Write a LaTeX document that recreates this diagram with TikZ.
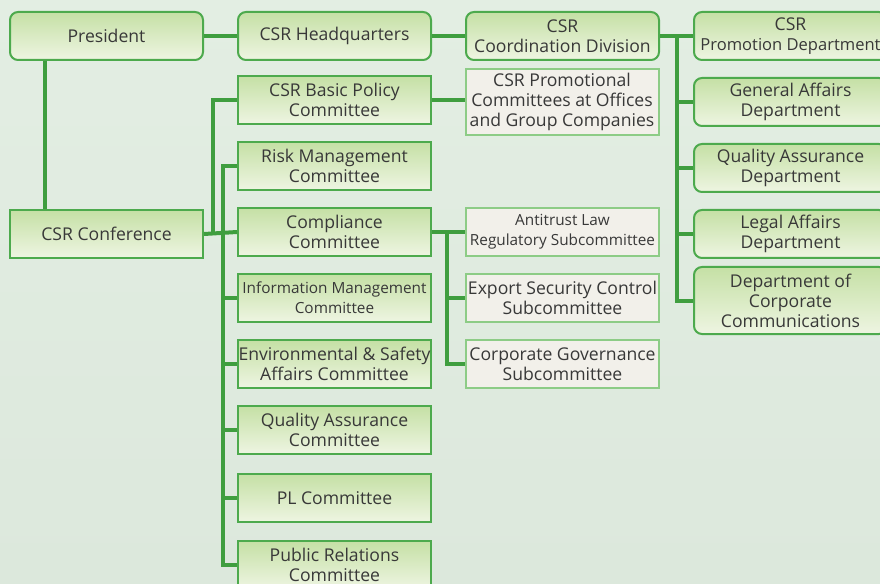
\documentclass[tikz,border=0pt]{standalone}
\usepackage{fontspec}
\setmainfont{Open Sans}
\definecolor{csrgreen}{HTML}{3F9E3F}
\definecolor{csredge}{HTML}{4DAA4D}
\definecolor{csrtop}{HTML}{C5E0A5}
\definecolor{csrbot}{HTML}{EEF5E2}
\definecolor{csrbeige}{HTML}{F2F0EA}
\definecolor{csrpale}{HTML}{8DCC86}
\definecolor{csrtext}{HTML}{383838}
\definecolor{csrbgtop}{HTML}{E3EEE3}
\definecolor{csrbgbot}{HTML}{DCE8DC}
\newcommand{\csrnormal}{\fontsize{13.2}{15}\selectfont}
\newcommand{\csrsmall}{\fontsize{11.5}{15}\selectfont}
\newcommand{\csrmid}{\fontsize{12.4}{15}\selectfont}
\tikzset{
    every node/.style={font=\csrnormal,text=csrtext,align=center},
    unit/.style={draw=csredge,line width=1.5pt,top color=csrtop,bottom color=csrbot,minimum width=144.75pt,minimum height=36pt,inner sep=0pt},
    office/.style={unit,rounded corners=6pt},
    cmte/.style={unit},
    subcmte/.style={draw=csrpale,line width=1.5pt,fill=csrbeige,minimum width=144.75pt,minimum height=36pt,inner sep=0pt},
    link/.style={draw=csrgreen,line width=3pt}
}

\begin{document}
\begin{tikzpicture}[x=0.75pt,y=-0.75pt]
\useasboundingbox (0,0) rectangle (880,584);
\shade[top color=csrbgtop,bottom color=csrbgbot] (0,0) rectangle (880,584);
\node[office] (pres) at (106.5,36) {President};
\node[office] (hq) at (334.5,36) {CSR Headquarters};
\node[office] (crd) at (562.5,36) {CSR\\Coordination Division};
\node[office] (prm) at (790.5,36) {CSR\\{\csrmid Promotion Department}};
\foreach \n/\y/\txt in {gad/102/{General Affairs\\Department},qad/168/{Quality Assurance\\Department},lad/234/{Legal Affairs\\Department}}{
    \node[office] (\n) at (790.5,\y) {\txt};
}
\node[office,minimum height=50.25pt] (dcc) at (790.5,300.5) {Department of\\Corporate\\Communications};
\node[cmte] (conf) at (106.5,234) {CSR Conference};
\node[cmte] (bpc) at (334.5,100) {CSR Basic Policy\\Committee};
\node[subcmte,minimum height=49.5pt] (pcm) at (562,102) {CSR Promotional\\Committees at Offices\\and Group Companies};
\foreach \n/\y/\f/\txt in {risk/166/\csrnormal/{Risk Management\\Committee},cmp/232/\csrnormal/{Compliance\\Committee},info/298/\csrsmall/{Information Management\\Committee},env/364/\csrnormal/{Environmental \& Safety\\Affairs Committee},qac/430/\csrnormal/{Quality Assurance\\Committee},plc/498/\csrnormal/{PL Committee},prc/565/\csrnormal/{Public Relations\\Committee}}{
    \node[cmte,font=\f] (\n) at (334.5,\y) {\txt};
}
\foreach \n/\y/\f/\txt in {ant/232/\csrsmall/{Antitrust Law\\Regulatory Subcommittee},exp/298/\csrnormal/{Export Security Control\\Subcommittee},cgv/364/\csrnormal/{Corporate Governance\\Subcommittee}}{
    \node[subcmte,font=\f] (\n) at (562.5,\y) {\txt};
}
\draw[link] (pres) -- (hq);
\draw[link] (hq) -- (crd);
\draw[link] (crd) -- (prm);
\draw[link] ([xshift=-12pt]prm.west) |- (dcc.west);
\foreach \n in {gad,qad,lad}{
    \draw[link] ([xshift=-12pt]\n.west) -- (\n.west);
}
\draw[link] ([xshift=27pt]pres.south west) -- ([xshift=27pt]conf.north west);
\draw[link] (conf.east) -- (cmp.west);
\draw[link] ([xshift=6.75pt]conf.east) |- (bpc.west);
\draw[link] (risk.west) -| ([xshift=-10.5pt]prc.west) -- (prc.west);
\foreach \n in {info,env,qac,plc}{
    \draw[link] ([xshift=-10.5pt]\n.west) -- (\n.west);
}
\draw[link] (bpc.east) -- (bpc.east -| pcm.west);
\draw[link] (cmp.east) -- (cmp.east -| ant.west);
\draw[link] ([xshift=-13.5pt]ant.west) |- (cgv.west);
\draw[link] ([xshift=-13.5pt]exp.west) -- (exp.west);
\end{tikzpicture}
\end{document}
